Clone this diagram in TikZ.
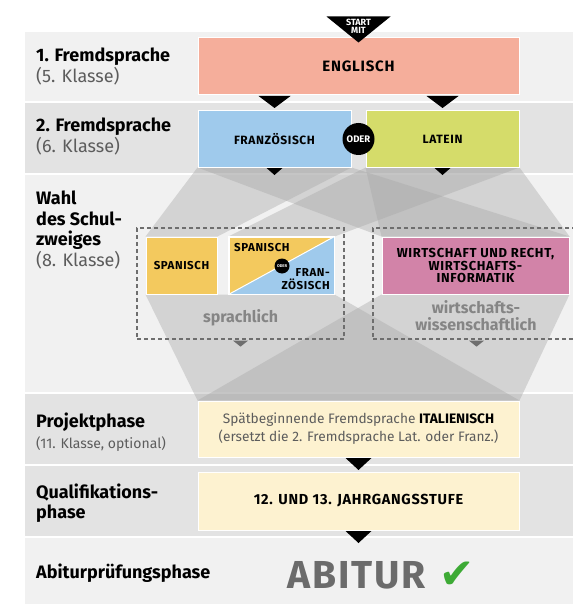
\documentclass[tikz,border=0pt]{standalone}
\usepackage{fontspec}
\setmainfont{Fira Sans}
\newfontfamily\capsfont{Fira Sans}[LetterSpace=5]
\newfontfamily\symfont{DejaVu Sans}
\usetikzlibrary{calc}
\definecolor{bandA}{HTML}{F1F1F1}
\definecolor{bandB}{HTML}{E3E3E3}
\definecolor{engl}{HTML}{F5AE9B}
\definecolor{franz}{HTML}{9FCAEC}
\definecolor{latein}{HTML}{D5DC6A}
\definecolor{span}{HTML}{F3C95E}
\definecolor{wirt}{HTML}{D283A8}
\definecolor{cream}{HTML}{FDF2D0}
\definecolor{fungray}{HTML}{A6A6A6}
\definecolor{subgray}{HTML}{5C5C5C}
\definecolor{midgray}{HTML}{858585}
\definecolor{dashgray}{HTML}{6E6E6E}
\definecolor{abigray}{HTML}{6B6B6B}
\definecolor{okgreen}{HTML}{3DAA35}
\newcommand{\myfs}[1]{\fontsize{#1}{#1}\selectfont}
\pgfdeclarelayer{back}
\pgfdeclarelayer{mid}
\pgfsetlayers{back,mid,main}
\begin{document}
\begin{tikzpicture}[x=1pt,y=-1pt,
  band/.style={draw=white,line width=1.5pt},
  box/.style={draw=white,line width=1pt,inner sep=0pt,text=black,align=center},
  funnel/.style={fill=fungray,fill opacity=0.4},
  dashbox/.style={draw=dashgray,line width=1.3pt,dash pattern=on 4pt off 3pt,inner sep=0pt},
  lbl/.style={anchor=base west,inner sep=0pt,font=\myfs{18}\bfseries},
  sub/.style={anchor=base west,inner sep=0pt,text=subgray,font=\myfs{18}},
  tri/.style={fill=black},
  gtri/.style={fill=dashgray},
  note/.style={inner sep=0pt,text=midgray,align=center,font=\fontsize{16}{16}\selectfont\bfseries},
]
\useasboundingbox (0,0) rectangle (572,604);

% ---------- boxes ----------
\node[box,fill=engl,minimum width=321pt,minimum height=57pt,font=\capsfont\myfs{15}\bfseries] (eng) at (358.5,66.5) {ENGLISCH};
\node[box,fill=franz,minimum width=153pt,minimum height=56pt,font=\capsfont\myfs{12}\bfseries] (fr) at (274.5,139) {FRANZÖSISCH};
\node[box,fill=latein,minimum width=153pt,minimum height=56pt,font=\capsfont\myfs{12}\bfseries] (la) at (442.5,139) {LATEIN};
\node[circle,fill=black,minimum size=32pt,inner sep=0pt,text=white,font=\myfs{9.5}\bfseries] (oder) at (358.5,139) {ODER};

\node[box,fill=span,minimum width=71pt,minimum height=57pt,font=\capsfont\myfs{11.5}\bfseries] (sp) at (181.5,265.5) {SPANISCH};
\node[box,fill=span,minimum width=105pt,minimum height=57pt] (sf) at (281.5,265.5) {};
\fill[franz] (sf.south west) -- (sf.south east) -- (sf.north east) -- cycle;
\draw[white,line width=1pt] (sf.south west) -- (sf.north east);
\draw[white,line width=1pt] (sf.south west) rectangle (sf.north east);
\node[anchor=base west,inner sep=0pt,font=\capsfont\myfs{11.5}\bfseries] (sft) at (234,251) {SPANISCH};
\node[anchor=base east,inner sep=0pt,font=\capsfont\myfs{11.5}\bfseries] (sfb1) at (330,276) {FRAN-};
\node[anchor=base east,inner sep=0pt,font=\capsfont\myfs{11.5}\bfseries] (sfb2) at (330,289) {ZÖSISCH};
\node[circle,fill=black,minimum size=15pt,inner sep=0pt,text=white,font=\myfs{4}\bfseries] (oder2) at (282,266) {ODER};

\node[box,fill=wirt,minimum width=187pt,minimum height=57pt,font=\capsfont\fontsize{13}{12.5}\selectfont\bfseries] (wi) at (475.5,265.5) {WIRTSCHAFT UND RECHT,\\WIRTSCHAFTS-\\INFORMATIK};

\node[box,fill=cream,minimum width=321pt,minimum height=56pt,font=\fontsize{13.7}{18}\selectfont] (pr) at (358.5,429)
  {{\color{subgray}Spätbeginnende Fremdsprache} \textbf{ITALIENISCH}\\{\color{subgray}(ersetzt die 2. Fremdsprache Lat. oder Franz.)}};
\node[box,fill=cream,minimum width=321pt,minimum height=58pt,font=\capsfont\myfs{14.5}\bfseries] (qu) at (358.5,501) {12. UND 13. JAHRGANGSSTUFE};

% ---------- arrowheads ----------
\fill[tri] (eng.north) ++(-32,-21) -- ++(64,0) -- ++(-32,26) -- cycle;
\node[text=white,inner sep=0pt,align=center,font=\fontsize{9}{8}\selectfont\bfseries] (start) at (358.5,26.5) {START\\MIT};
\fill[tri] (eng.south -| fr.north) ++(-16,0.5) -- ++(32,0) -- ++(-16,12) -- cycle;
\fill[tri] (eng.south -| la.north) ++(-16,0.5) -- ++(32,0) -- ++(-16,12) -- cycle;
\fill[tri] (fr.south) ++(-8,0.5) -- ++(16,0) -- ++(-8,7) -- cycle;
\fill[tri] (la.south) ++(-8,0.5) -- ++(16,0) -- ++(-8,7) -- cycle;
\fill[tri] (pr.south) ++(-13,0.5) -- ++(26,0) -- ++(-13,12) -- cycle;
\fill[tri] (qu.south) ++(-13,0.5) -- ++(26,0) -- ++(-13,12) -- cycle;

% ---------- left labels ----------
\node[lbl] (l1) at (36,62) {1. Fremdsprache};
\node[sub] (l1s) at (36,83) {(5. Klasse)};
\node[lbl] (l2) at (36,132) {2. Fremdsprache};
\node[sub] (l2s) at (36,153) {(6. Klasse)};
\node[lbl] (l3a) at (36,204) {Wahl};
\node[lbl] (l3b) at (36,225) {des Schul-};
\node[lbl] (l3c) at (36,245) {zweiges};
\node[sub] (l3s) at (36,266) {(8. Klasse)};
\node[lbl] (l4) at (36,427) {Projektphase};
\node[sub,font=\myfs{14}] (l4s) at (36,448) {(11. Klasse, optional)};
\node[lbl] (l5a) at (36,498) {Qualifikations-};
\node[lbl] (l5b) at (36,518) {phase};
\node[lbl] (l6) at (36,578) {Abiturprüfungsphase};

% ---------- Abitur ----------
\node[anchor=base west,inner sep=0pt,text=abigray,font=\capsfont\myfs{39}\bfseries] (abi) at (287,588) {ABITUR};
\node[anchor=base west,inner sep=0pt,text=okgreen,font=\symfont\myfs{42}] (chk) at (439,588) {✔};

% ---------- funnels, dashed groups ----------
\begin{pgfonlayer}{mid}
\fill[funnel] (fr.south west) -- (fr.south east) -- (sp.north east) -- (sp.north west) -- cycle;
\fill[funnel] (fr.south west) -- (fr.south east) -- (wi.north east) -- (wi.north west) -- cycle;
\fill[funnel] (la.south west) -- (la.south east) -- (sf.north east) -- (sf.north west) -- cycle;
\fill[funnel] (la.south west) -- (la.south east) -- (wi.north east) -- (wi.north west) -- cycle;
\fill[funnel] (sp.south west) -- (sf.south east) -- (pr.north east) -- (pr.north west) -- cycle;
\fill[funnel] (wi.south west) -- (wi.south east) -- (pr.north east) -- (pr.north west) -- cycle;
\node[dashbox,minimum width=207pt,minimum height=111pt] (spr) at (240.5,283.5) {};
\node[dashbox,minimum width=207pt,minimum height=111pt] (wws) at (476.5,283.5) {};
\fill[gtri] (spr.south) ++(-7.5,1) -- ++(15,0) -- ++(-7.5,6) -- cycle;
\fill[gtri] (wws.south) ++(-7.5,1) -- ++(15,0) -- ++(-7.5,6) -- cycle;
\node[note,anchor=base] (sprt) at (240.5,322) {sprachlich};
\node[note,anchor=base] (wwt1) at (476,313) {wirtschafts-};
\node[note,anchor=base] (wwt2) at (476,330) {wissenschaftlich};
\end{pgfonlayer}

% ---------- bands ----------
\begin{pgfonlayer}{back}
\fill[white] (0,0) rectangle (572,604);
\path[band,fill=bandA] (24,31) rectangle (574,102);
\path[band,fill=bandB] (24,102) rectangle (574,174);
\path[band,fill=bandA] (24,174) rectangle (574,393);
\path[band,fill=bandB] (24,393) rectangle (574,465);
\path[band,fill=bandB] (24,465) rectangle (574,537);
\path[band,fill=bandA] (24,537) rectangle (574,606);
\end{pgfonlayer}
\end{tikzpicture}
\end{document}
